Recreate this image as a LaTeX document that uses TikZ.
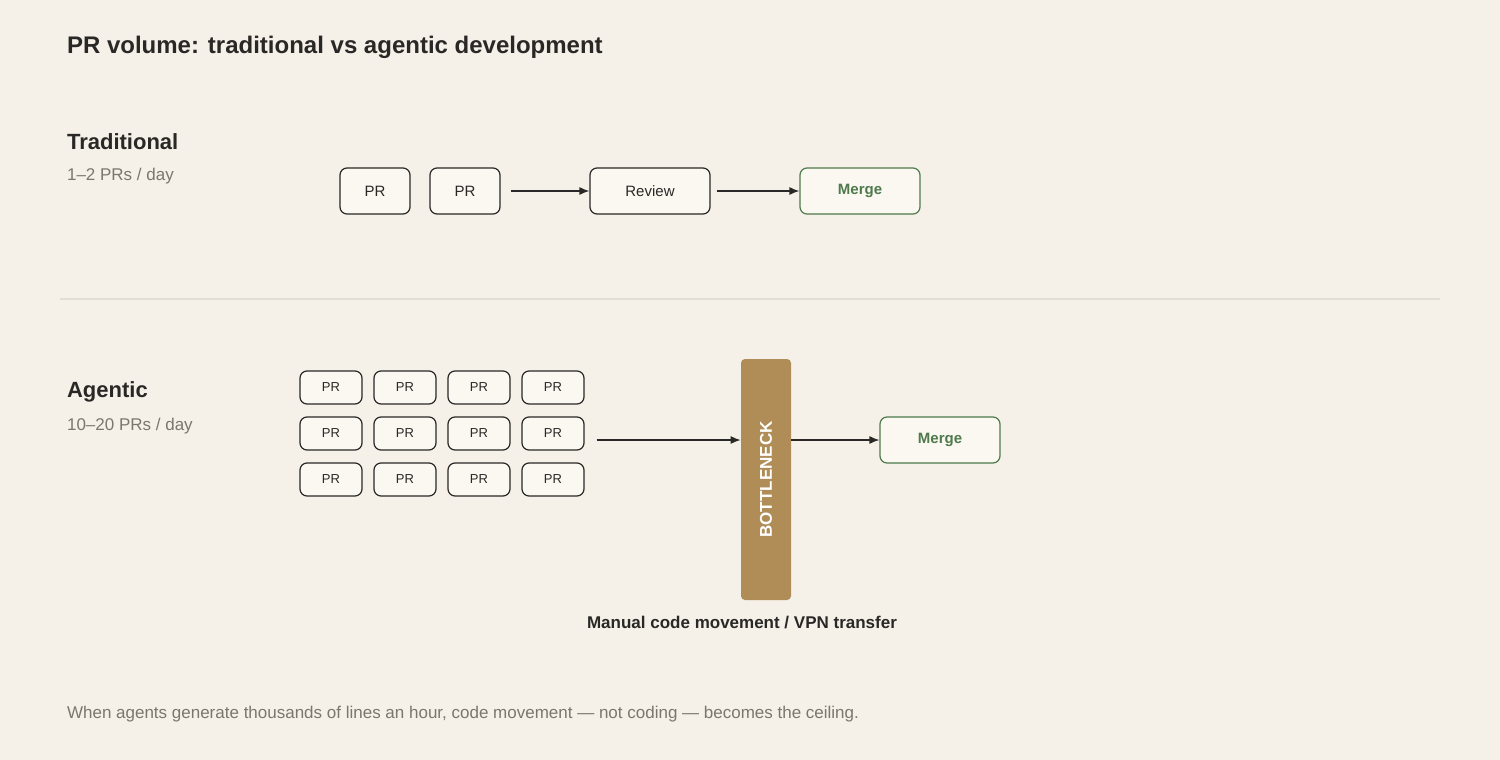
\documentclass[tikz,border=0pt]{standalone}
\usepackage{fontspec}
\setmainfont{Liberation Sans}
\usetikzlibrary{arrows.meta,positioning}
\definecolor{bg}{HTML}{F5F0E8}
\definecolor{boxfill}{HTML}{FBF8F2}
\definecolor{ink}{HTML}{2A2826}
\definecolor{mergegreen}{HTML}{4E7A4C}
\definecolor{bottle}{HTML}{B08D57}
\definecolor{muted}{HTML}{7A776F}
\definecolor{rule}{HTML}{E3DED4}
\tikzset{
  box/.style={draw=ink, fill=boxfill, rounded corners=3.5pt, line width=0.6pt, font=\fontsize{7.5}{9}\selectfont, text=ink, inner sep=0pt},
  bigpr/.style={box, minimum width=35pt, minimum height=23pt},
  smallpr/.style={box, minimum width=31pt, minimum height=16.5pt, font=\fontsize{6.5}{8}\selectfont},
  merge/.style={box, draw=mergegreen, text=mergegreen, font=\fontsize{7.5}{9}\selectfont\bfseries, minimum width=60pt, minimum height=23pt},
  flow/.style={-{Latex[length=5pt,width=4pt]}, draw=ink, line width=0.6pt},
  heading/.style={anchor=west, text=ink, font=\fontsize{11}{13}\selectfont\bfseries},
  sub/.style={anchor=west, text=muted, font=\fontsize{8.5}{10}\selectfont}
}
\begin{document}
\begin{tikzpicture}[x=0.5pt,y=-0.5pt]
  \fill[bg] (0,0) rectangle (1500,760);
  \useasboundingbox (0,0) rectangle (1500,760);
  \node[heading, font=\fontsize{12}{14}\selectfont\bfseries] (title) at (60,47) {PR volume: traditional vs agentic development};

  % Traditional row
  \node[heading] (trad) at (60,142) {Traditional};
  \node[sub] (tradsub) at (60,176) {1–2 PRs / day};
  \node[bigpr] (pr1) at (375,191) {PR};
  \node[bigpr] (pr2) at (465,191) {PR};
  \node[bigpr, minimum width=60pt] (review) at (650,191) {Review};
  \node[merge] (merge1) at (860,191) {Merge};
  \draw[flow] (pr2.east) ++(10,0) coordinate (start1) -- (review.west);
  \draw[flow] (review.east) ++(6,0) coordinate (start2) -- (merge1.west);

  \draw[rule, line width=0.6pt] (60,299) -- (1440,299);

  % Agentic row
  \node[heading] (agentic) at (60,392) {Agentic};
  \node[sub] (agsub) at (60,426) {10–20 PRs / day};
  \foreach \row in {0,1,2} {
    \foreach \col in {0,1,2,3} {
      \node[smallpr] (pr-\row-\col) at (331+74*\col, 387.5+46*\row) {PR};
    }
  }
  \node[draw=none, fill=bottle, rounded corners=2pt, minimum width=25pt, minimum height=120.5pt, inner sep=0pt] (neck) at (766,479.5) {};
  \node[rotate=90, text=white, font=\fontsize{8.5}{10}\selectfont\bfseries] at (neck.center) {BOTTLENECK};
  \node[merge] (merge2) at (940,440) {Merge};
  \draw[flow] (pr-1-3.east) ++(12,6.5) coordinate (start3) -- (neck.west |- start3);
  \draw[flow] (neck.east |- merge2.west) -- (merge2.west);
  \node[text=ink, font=\fontsize{8.5}{10}\selectfont\bfseries] (caption) at (742,623) {Manual code movement / VPN transfer};

  \node[sub] (footer) at (60,714) {When agents generate thousands of lines an hour, code movement — not coding — becomes the ceiling.};
\end{tikzpicture}
\end{document}
